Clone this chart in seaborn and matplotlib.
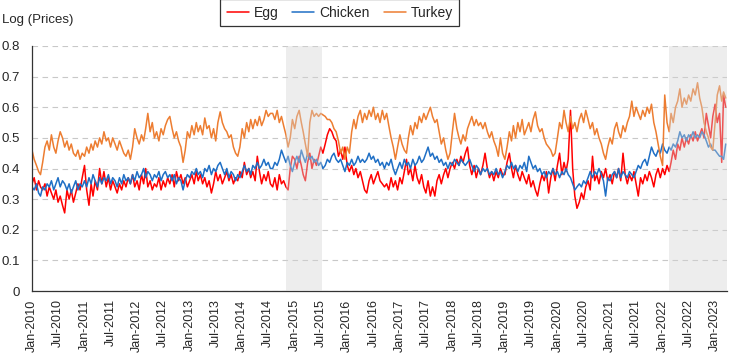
import pandas as pd
import matplotlib
matplotlib.use("Agg")
import matplotlib.pyplot as plt
import matplotlib.dates as mdates
import seaborn as sns

# --- DADOS (log dos preços, duas leituras por mês: dia 1 e dia 16) ---

egg = [
    0.35, 0.37, 0.33, 0.36, 0.34, 0.33, 0.35, 0.31, 0.34, 0.32, 0.30, 0.33, 0.29, 0.31, 0.28, 0.255, 0.33, 0.30, 0.33, 0.29, 0.32, 0.35, 0.33, 0.37,
    0.41, 0.33, 0.28, 0.35, 0.31, 0.36, 0.33, 0.40, 0.35, 0.39, 0.34, 0.37, 0.33, 0.36, 0.34, 0.32, 0.35, 0.33, 0.36, 0.34, 0.37, 0.35, 0.38, 0.34,
    0.36, 0.33, 0.38, 0.35, 0.40, 0.34, 0.36, 0.33, 0.35, 0.34, 0.37, 0.33, 0.36, 0.34, 0.37, 0.35, 0.38, 0.34, 0.39, 0.36, 0.38, 0.35, 0.37, 0.34,
    0.36, 0.38, 0.35, 0.39, 0.36, 0.38, 0.35, 0.37, 0.34, 0.36, 0.32, 0.35, 0.39, 0.36, 0.38, 0.35, 0.37, 0.39, 0.36, 0.38, 0.35, 0.37, 0.36, 0.39,
    0.37, 0.42, 0.38, 0.40, 0.37, 0.39, 0.36, 0.44, 0.39, 0.35, 0.38, 0.36, 0.39, 0.35, 0.34, 0.37, 0.33, 0.38, 0.35, 0.36, 0.34, 0.33, 0.40, 0.44,
    0.43, 0.40, 0.44, 0.41, 0.38, 0.36, 0.42, 0.45, 0.40, 0.43, 0.41, 0.44, 0.47, 0.45, 0.48, 0.51, 0.53, 0.52, 0.50, 0.49, 0.44, 0.46, 0.43, 0.47,
    0.41, 0.39, 0.41, 0.38, 0.40, 0.37, 0.39, 0.36, 0.33, 0.32, 0.36, 0.38, 0.35, 0.37, 0.39, 0.36, 0.35, 0.34, 0.35, 0.33, 0.37, 0.34, 0.36, 0.33,
    0.37, 0.35, 0.39, 0.43, 0.38, 0.40, 0.36, 0.41, 0.37, 0.35, 0.38, 0.34, 0.32, 0.36, 0.31, 0.34, 0.31, 0.36, 0.38, 0.35, 0.38, 0.40, 0.37, 0.40,
    0.42, 0.40, 0.43, 0.41, 0.44, 0.42, 0.45, 0.47, 0.41, 0.38, 0.41, 0.37, 0.40, 0.38, 0.41, 0.45, 0.40, 0.37, 0.39, 0.36, 0.39, 0.37, 0.40, 0.38,
    0.38, 0.42, 0.45, 0.40, 0.37, 0.41, 0.38, 0.36, 0.39, 0.37, 0.35, 0.38, 0.34, 0.36, 0.33, 0.31, 0.35, 0.38, 0.36, 0.39, 0.32, 0.37, 0.40, 0.36,
    0.41, 0.45, 0.38, 0.42, 0.39, 0.43, 0.59, 0.40, 0.31, 0.27, 0.29, 0.32, 0.30, 0.34, 0.36, 0.33, 0.44, 0.36, 0.38, 0.35, 0.39, 0.37, 0.40, 0.36,
    0.38, 0.35, 0.39, 0.37, 0.40, 0.36, 0.45, 0.38, 0.35, 0.38, 0.36, 0.39, 0.35, 0.31, 0.37, 0.35, 0.38, 0.36, 0.39, 0.37, 0.34, 0.38, 0.40, 0.37,
    0.40, 0.38, 0.41, 0.39, 0.42, 0.46, 0.43, 0.48, 0.46, 0.50, 0.47, 0.50, 0.48, 0.51, 0.49, 0.52, 0.49, 0.51, 0.53, 0.50, 0.58, 0.54, 0.50, 0.57,
    0.61, 0.55, 0.58, 0.42, 0.64, 0.60,
]

chicken = [
    0.34, 0.33, 0.35, 0.32, 0.31, 0.34, 0.33, 0.35, 0.34, 0.36, 0.33, 0.35, 0.37, 0.34, 0.36, 0.35, 0.33, 0.35, 0.32, 0.34, 0.36, 0.33, 0.35, 0.34,
    0.36, 0.34, 0.37, 0.35, 0.38, 0.36, 0.34, 0.37, 0.35, 0.37, 0.36, 0.38, 0.35, 0.37, 0.36, 0.34, 0.37, 0.35, 0.38, 0.36, 0.37, 0.35, 0.38, 0.36,
    0.39, 0.37, 0.38, 0.40, 0.37, 0.39, 0.38, 0.36, 0.38, 0.37, 0.39, 0.36, 0.38, 0.39, 0.37, 0.38, 0.36, 0.38, 0.35, 0.37, 0.36, 0.33, 0.36, 0.38,
    0.37, 0.39, 0.38, 0.40, 0.38, 0.39, 0.37, 0.40, 0.39, 0.41, 0.38, 0.40, 0.39, 0.41, 0.42, 0.40, 0.38, 0.40, 0.37, 0.39, 0.38, 0.36, 0.38, 0.37,
    0.39, 0.41, 0.39, 0.40, 0.38, 0.41, 0.40, 0.42, 0.40, 0.41, 0.43, 0.41, 0.42, 0.40, 0.40, 0.42, 0.41, 0.43, 0.46, 0.44, 0.42, 0.44, 0.41, 0.39,
    0.42, 0.44, 0.42, 0.46, 0.44, 0.42, 0.45, 0.43, 0.44, 0.42, 0.43, 0.41, 0.42, 0.40, 0.41, 0.43, 0.42, 0.44, 0.45, 0.43, 0.42, 0.43, 0.41, 0.39,
    0.42, 0.41, 0.43, 0.41, 0.42, 0.44, 0.42, 0.43, 0.42, 0.43, 0.45, 0.43, 0.44, 0.42, 0.43, 0.41, 0.42, 0.40, 0.42, 0.41, 0.43, 0.40, 0.38, 0.40,
    0.42, 0.40, 0.43, 0.41, 0.42, 0.40, 0.43, 0.41, 0.42, 0.44, 0.42, 0.43, 0.45, 0.47, 0.44, 0.45, 0.43, 0.44, 0.42, 0.43, 0.41, 0.42, 0.40, 0.42,
    0.41, 0.43, 0.42, 0.41, 0.43, 0.42, 0.41, 0.42, 0.43, 0.41, 0.39, 0.41, 0.40, 0.38, 0.40, 0.39, 0.40, 0.38, 0.39, 0.38, 0.40, 0.38, 0.39, 0.37,
    0.39, 0.41, 0.40, 0.42, 0.40, 0.41, 0.39, 0.41, 0.40, 0.42, 0.39, 0.44, 0.42, 0.40, 0.41, 0.39, 0.40, 0.38, 0.39, 0.37, 0.39, 0.38, 0.40, 0.38,
    0.39, 0.37, 0.39, 0.38, 0.40, 0.38, 0.37, 0.35, 0.33, 0.34, 0.35, 0.34, 0.36, 0.35, 0.37, 0.39, 0.37, 0.39, 0.38, 0.40, 0.38, 0.36, 0.31, 0.37,
    0.36, 0.38, 0.39, 0.37, 0.40, 0.37, 0.39, 0.38, 0.37, 0.39, 0.38, 0.37, 0.39, 0.41, 0.40, 0.42, 0.43, 0.41, 0.44, 0.47, 0.45, 0.44, 0.46, 0.45,
    0.48, 0.46, 0.45, 0.47, 0.46, 0.48, 0.47, 0.49, 0.52, 0.50, 0.51, 0.49, 0.51, 0.50, 0.52, 0.50, 0.51, 0.50, 0.52, 0.51, 0.49, 0.47, 0.48, 0.46,
    0.46, 0.45, 0.44, 0.44, 0.43, 0.48,
]

turkey = [
    0.46, 0.43, 0.41, 0.39, 0.38, 0.42, 0.47, 0.49, 0.46, 0.51, 0.47, 0.45, 0.49, 0.52, 0.50, 0.47, 0.49, 0.46, 0.48, 0.45, 0.44, 0.46, 0.43, 0.45,
    0.44, 0.47, 0.45, 0.48, 0.46, 0.49, 0.47, 0.50, 0.48, 0.52, 0.49, 0.50, 0.47, 0.50, 0.48, 0.46, 0.49, 0.47, 0.45, 0.44, 0.46, 0.43, 0.47, 0.53,
    0.50, 0.48, 0.51, 0.49, 0.53, 0.58, 0.52, 0.55, 0.50, 0.52, 0.49, 0.53, 0.51, 0.54, 0.56, 0.57, 0.53, 0.50, 0.52, 0.49, 0.47, 0.42, 0.46, 0.52,
    0.50, 0.54, 0.51, 0.55, 0.52, 0.54, 0.51, 0.565, 0.53, 0.54, 0.50, 0.53, 0.49, 0.55, 0.585, 0.55, 0.53, 0.52, 0.50, 0.51, 0.47, 0.45, 0.44, 0.47,
    0.53, 0.50, 0.55, 0.52, 0.56, 0.53, 0.56, 0.54, 0.57, 0.54, 0.56, 0.59, 0.57, 0.58, 0.58, 0.56, 0.59, 0.55, 0.57, 0.54, 0.51, 0.47, 0.50, 0.56,
    0.53, 0.57, 0.59, 0.55, 0.52, 0.48, 0.44, 0.55, 0.59, 0.57, 0.58, 0.57, 0.58, 0.575, 0.57, 0.56, 0.56, 0.55, 0.53, 0.52, 0.49, 0.45, 0.47, 0.43,
    0.47, 0.45, 0.52, 0.56, 0.53, 0.57, 0.59, 0.55, 0.58, 0.56, 0.59, 0.57, 0.60, 0.56, 0.58, 0.55, 0.59, 0.56, 0.58, 0.54, 0.50, 0.47, 0.43, 0.47,
    0.51, 0.48, 0.46, 0.45, 0.50, 0.54, 0.51, 0.55, 0.53, 0.57, 0.55, 0.58, 0.56, 0.58, 0.60, 0.57, 0.55, 0.56, 0.52, 0.48, 0.50, 0.46, 0.43, 0.45,
    0.52, 0.58, 0.53, 0.50, 0.48, 0.51, 0.49, 0.53, 0.55, 0.57, 0.54, 0.56, 0.54, 0.55, 0.53, 0.55, 0.52, 0.50, 0.52, 0.49, 0.47, 0.44, 0.50, 0.45,
    0.43, 0.47, 0.52, 0.49, 0.54, 0.50, 0.55, 0.52, 0.56, 0.51, 0.53, 0.55, 0.52, 0.56, 0.585, 0.54, 0.52, 0.53, 0.50, 0.48, 0.47, 0.46, 0.44, 0.45,
    0.50, 0.55, 0.53, 0.59, 0.55, 0.52, 0.57, 0.53, 0.55, 0.52, 0.56, 0.58, 0.55, 0.59, 0.56, 0.53, 0.55, 0.51, 0.53, 0.50, 0.48, 0.45, 0.43, 0.47,
    0.50, 0.48, 0.53, 0.55, 0.52, 0.50, 0.54, 0.52, 0.55, 0.57, 0.62, 0.57, 0.60, 0.58, 0.56, 0.59, 0.57, 0.60, 0.58, 0.61, 0.55, 0.52, 0.48, 0.44,
    0.41, 0.64, 0.55, 0.52, 0.58, 0.55, 0.60, 0.62, 0.66, 0.60, 0.63, 0.61, 0.64, 0.62, 0.66, 0.64, 0.68, 0.63, 0.60, 0.55, 0.52, 0.50, 0.47, 0.46,
    0.55, 0.64, 0.67, 0.62, 0.65, 0.63,
]

series_names = ["Egg", "Chicken", "Turkey"]
series_colors = {"Egg": "#FF0000", "Chicken": "#1F6FC5", "Turkey": "#ED7D31"}

# períodos sombreados (início, fim)
shaded_periods = [("2014-11-01", "2015-07-10"), ("2022-02-15", "2023-03-25")]

# --- MONTAGEM DO DATAFRAME ---
months = pd.date_range("2010-01-01", "2023-03-01", freq="MS")
dates = []
for m in months:
    dates.append(m)
    dates.append(m + pd.Timedelta(days=15))

df = pd.concat([
    pd.DataFrame({"date": dates, "value": egg, "series": "Egg"}),
    pd.DataFrame({"date": dates, "value": chicken, "series": "Chicken"}),
    pd.DataFrame({"date": dates, "value": turkey, "series": "Turkey"}),
])

# --- GRÁFICO ---
sns.set_style("white")
plt.rcParams["font.family"] = ["Liberation Sans", "DejaVu Sans"]

fig = plt.figure(figsize=(7.29, 3.53), dpi=100)
ax = fig.add_axes([0.0439, 0.1756, 0.9534, 0.6941])

sns.lineplot(data=df, x="date", y="value", hue="series", hue_order=series_names,
             palette=series_colors, linewidth=1.1, ax=ax, zorder=2)

for start, end in shaded_periods:
    ax.axvspan(pd.Timestamp(start), pd.Timestamp(end), color="#d4d4d4", alpha=0.4, lw=0, zorder=3)

ax.set_ylim(0, 0.8)
ax.set_xlim(pd.Timestamp("2010-01-01"), pd.Timestamp("2023-03-25"))
ax.set_yticks([i / 10 for i in range(9)])
ax.yaxis.set_major_formatter(plt.FuncFormatter(lambda v, p: "0" if v == 0 else f"{v:.1f}"))
ax.yaxis.grid(True, linestyle=(0, (5, 4)), color="#c8c8c8", linewidth=0.8)
ax.set_axisbelow(True)

ax.xaxis.set_major_locator(mdates.MonthLocator(bymonth=[1, 7]))
ax.xaxis.set_major_formatter(mdates.DateFormatter("%b-%Y"))
ax.tick_params(axis="x", rotation=90, labelsize=9, direction="out", length=4, width=0.8, color="#333333", pad=2)
ax.tick_params(axis="y", labelsize=9.5, length=0, pad=9)

for side in ["top", "right"]:
    ax.spines[side].set_visible(False)
for side in ["left", "bottom"]:
    ax.spines[side].set_color("#333333")
    ax.spines[side].set_linewidth(0.9)

ax.set_xlabel("")
ax.set_ylabel("")
fig.text(0.003, 0.943, "Log (Prices)", fontsize=9.5, ha="left", va="center")

handles, labels = ax.get_legend_handles_labels()
ax.get_legend().remove()
leg = fig.legend(handles, labels, loc="center", bbox_to_anchor=(0.466, 0.964), ncol=3,
                 frameon=True, fancybox=False, edgecolor="black", fontsize=10,
                 handlelength=1.6, handletextpad=0.35, columnspacing=1.0,
                 borderpad=0.45, borderaxespad=0)
leg.get_frame().set_linewidth(0.9)

fig.savefig("out.png", dpi=100)
